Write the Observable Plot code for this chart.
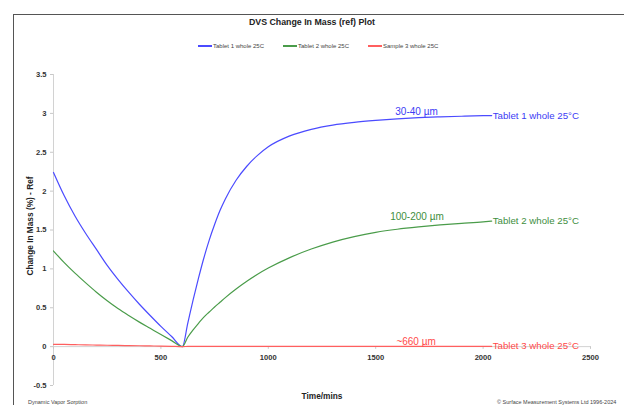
<!DOCTYPE html>
<html><head><meta charset="utf-8">
<script src="https://cdn.jsdelivr.net/npm/d3@7"></script>
<script src="https://cdn.jsdelivr.net/npm/@observablehq/plot@0.6"></script>
<style>
body{margin:0;background:#fff;font-family:"Liberation Sans",Arial,sans-serif;}
#wrap{position:relative;width:624px;height:405px;overflow:hidden;background:#fff;}
#wrap svg{position:absolute;left:0;top:0;}
#border{position:absolute;left:13px;top:14px;width:700px;height:500px;border-left:1.5px solid #555;border-top:1.5px solid #555;}
.abs{position:absolute;white-space:nowrap;line-height:1;}
.c{transform:translate(-50%,-50%);}
.title{font-weight:bold;font-size:8.8px;color:#222;}
.axt{font-weight:bold;font-size:8.3px;color:#222;}
.leg{font-size:6px;color:#444;transform:translateY(-50%);display:flex;align-items:center;}
.leg span.sw{display:inline-block;width:14px;height:1.3px;margin-right:1px;}
.foot{font-size:5.5px;color:#444;}
</style>
</head><body>
<div id="wrap"><div id="border"></div></div>
<script>
const times = [0,50,100,150,200,250,300,350,400,450,500,550,600,625,650,675,700,725,750,775,800,850,900,950,1000,1100,1200,1300,1400,1500,1600,1700,1800,1900,2000,2040];
const tablet1 = [2.24,1.94,1.68,1.455,1.25,1.045,0.865,0.70,0.545,0.40,0.26,0.13,0,0.3,0.6,0.88,1.14,1.37,1.57,1.75,1.90,2.14,2.32,2.46,2.57,2.71,2.795,2.85,2.885,2.91,2.93,2.945,2.955,2.963,2.97,2.972];
const tablet2 = [1.23,1.08,0.945,0.82,0.70,0.59,0.49,0.40,0.315,0.235,0.155,0.077,0,0.12,0.215,0.30,0.38,0.445,0.51,0.57,0.63,0.74,0.84,0.93,1.01,1.145,1.255,1.345,1.415,1.47,1.51,1.54,1.565,1.585,1.605,1.615];
const sample3 = [0.03,0.028,0.025,0.022,0.02,0.018,0.015,0.013,0.011,0.009,0.007,0.004,0,0.003,0.004,0.004,0.004,0.004,0.004,0.004,0.004,0.004,0.004,0.004,0.004,0.004,0.004,0.004,0.004,0.004,0.004,0.004,0.004,0.004,0.004,0.004];
const seriesNames = ["Tablet 1 whole 25C","Tablet 2 whole 25C","Sample 3 whole 25C"];
const seriesColors = ["#4b4bff","#4a9c4a","#ff5f5f"];
const endLabels = ["Tablet 1 whole 25°C","Tablet 2 whole 25°C","Tablet 3 whole 25°C"];
const endColors = ["#3c3cf5","#3e8e3e","#ff4a4a"];
const annoText = ["30-40 µm","100-200 µm","~660 µm"];
const annoTime = [1690,1692,1688];
const annoValue = [3.02,1.675,0.064];
const xTicks = [0,500,1000,1500,2000,2500];
const yTicks = [-0.5,0,0.5,1,1.5,2,2.5,3,3.5];

const allSeries = [tablet1,tablet2,sample3];
const rows = [];
allSeries.forEach((vals,k)=>vals.forEach((v,i)=>rows.push({t:times[i],v,s:k})));
const ends = allSeries.map((vals,k)=>({t:times[times.length-1],v:vals[vals.length-1],label:endLabels[k],c:endColors[k]}));
const annos = annoText.map((txt,k)=>({t:annoTime[k],v:annoValue[k],txt,c:endColors[k]}));

const chart = Plot.plot({
  width:624, height:405,
  marginLeft:53, marginRight:34, marginTop:74, marginBottom:20,
  style:{fontFamily:"Liberation Sans, Arial, sans-serif", background:"transparent"},
  x:{domain:[0,2500], axis:null},
  y:{domain:[-0.5,3.5], axis:null},
  marks:[
    Plot.ruleX([0],{stroke:"#d2d2d2"}),
    Plot.ruleY([0],{stroke:"#d2d2d2"}),
    Plot.axisY(yTicks,{anchor:"left",tickSize:3,tickPadding:4,stroke:"#c8c8c8",fill:"#333",fontWeight:"bold",fontSize:7.6,tickFormat:d=>String(d),label:null}),
    Plot.ruleX(xTicks,{x:d=>d,y1:0,y2:-0.035,stroke:"#c8c8c8"}),
    Plot.text(xTicks,{x:d=>d,y:0,dy:11,text:d=>String(d),fill:"#333",fontWeight:"bold",fontSize:7.6}),
    Plot.line(rows,{x:"t",y:"v",z:"s",stroke:d=>seriesColors[d.s],strokeWidth:1.2,curve:"monotone-x"}),
    Plot.text(ends,{x:"t",y:"v",text:"label",fill:"c",textAnchor:"start",dx:1,fontSize:9.7}),
    Plot.text(annos,{x:"t",y:"v",text:"txt",fill:"c",fontSize:10})
  ]
});
const wrap = document.getElementById("wrap");
wrap.appendChild(chart);

function add(html,cls,left,top,extra){
  const d=document.createElement("div");
  d.className="abs "+cls; d.innerHTML=html;
  d.style.left=left+"px"; d.style.top=top+"px";
  if(extra) Object.assign(d.style,extra);
  wrap.appendChild(d); return d;
}
add("DVS Change In Mass (ref) Plot","title c",312,22);
const legX=[198,283,368];
seriesNames.forEach((n,k)=>{
  add('<span class="sw" style="background:'+seriesColors[k]+'"></span>'+n,"leg",legX[k],46);
});
add("Change In Mass (%) - Ref","axt",30,226,{transform:"translate(-50%,-50%) rotate(-90deg)"});
add("Time/mins","axt c",322,396);
add("Dynamic Vapor Sorption","foot",28,400);
add("© Surface Measurement Systems Ltd 1996-2024","foot",497,400);
</script>
</body></html>
